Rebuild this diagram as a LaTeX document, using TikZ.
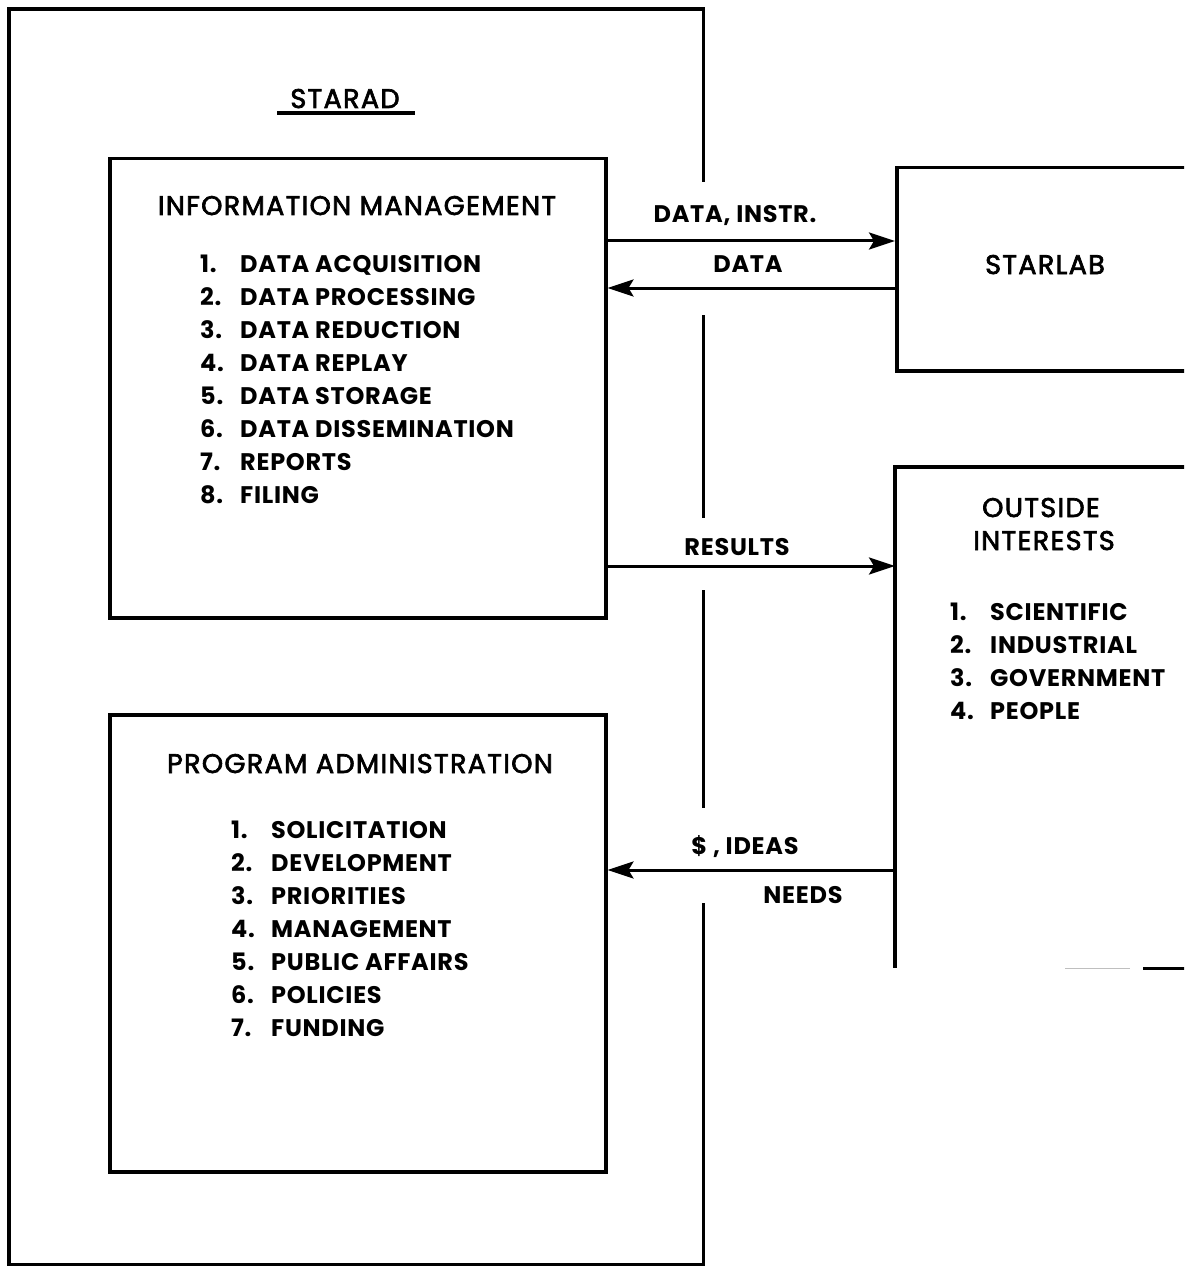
\documentclass[tikz,border=0pt]{standalone}
\usepackage{fontspec}
\setmainfont{Poppins}
\newfontfamily\headfont[LetterSpace=5, FakeBold=2.5]{Poppins}
\newfontfamily\itemfont[LetterSpace=3]{Poppins}
\usetikzlibrary{arrows.meta}
\begin{document}
\begin{tikzpicture}[x=1pt,y=-1pt,
  frame/.style={line width=3.5pt},
  box/.style={draw, line width=3.5pt, anchor=north west, inner sep=0pt},
  area/.style={inner sep=0pt, anchor=north west},
  arr/.style={line width=3pt, -{Stealth[length=26pt,width=17pt,inset=5pt]}},
  head/.style={font=\headfont\fontsize{27}{32}\selectfont, inner sep=0pt, anchor=base},
  item/.style={font=\itemfont\bfseries\fontsize{24}{28}\selectfont, inner sep=0pt, anchor=base west},
  lbl/.style={font=\itemfont\bfseries\fontsize{24}{28}\selectfont, inner sep=0pt, anchor=base},
]
\useasboundingbox (0,0) rectangle (1184,1273);
\clip (0,0) rectangle (1184,1273);

% STARAD frame: right side is broken where the flows cross it
\node[area, minimum width=694, minimum height=1255] (starad) at (9,9) {};
\draw[frame] (starad.north east |- 0,182) -- (starad.north east) -- (starad.north west)
  -- (starad.south west) -- (starad.south east) -- (starad.south east |- 0,903);
\draw[frame] (starad.east |- 0,315) -- (starad.east |- 0,518);
\draw[frame] (starad.east |- 0,590) -- (starad.east |- 0,808);

\node[head] (staradlbl) at (345,108) {STARAD};
\draw[frame] (277,113) -- (415,113);

% Information management
\node[box, minimum width=496, minimum height=459] (im) at (108,157) {};
\node[head] (imtitle) at (357,215) {INFORMATION MANAGEMENT};
\foreach \t [count=\i] in {DATA ACQUISITION, DATA PROCESSING, DATA REDUCTION,
    DATA REPLAY, DATA STORAGE, DATA DISSEMINATION, REPORTS, FILING} {
  \node[item] (imn\i) at (200,{272.5+33*(\i-1)}) {\i.};
  \node[item] (imt\i) at (240,{272.5+33*(\i-1)}) {\t};
}

% Program administration
\node[box, minimum width=496, minimum height=457] (pa) at (108,713) {};
\node[head] (patitle) at (360,773) {PROGRAM ADMINISTRATION};
\foreach \t [count=\i] in {SOLICITATION, DEVELOPMENT, PRIORITIES, MANAGEMENT,
    PUBLIC AFFAIRS, POLICIES, FUNDING} {
  \node[item] (pan\i) at (231,{838+33*(\i-1)}) {\i.};
  \node[item] (pat\i) at (271,{838+33*(\i-1)}) {\t};
}

% Starlab
\node[box, minimum width=320, minimum height=203] (starlab) at (895,166) {};
\node[head] (starlabtitle) at (1045,274) {STARLAB};

% Outside interests (bottom edge survives only in part)
\node[area, minimum width=320, minimum height=501] (outside) at (895,467) {};
\draw[frame] (outside.north east) -- (outside.north west) -- (outside.south west);
\draw[frame] (outside.south west -| 1143,0) -- (outside.south east);
\draw[gray!50, line width=1pt] (outside.south west -| 1065,0) -- (outside.south west -| 1130,0);
\node[head] (outtitle1) at (1041,517) {OUTSIDE};
\node[head] (outtitle2) at (1044,550) {INTERESTS};
\foreach \t [count=\i] in {SCIENTIFIC, INDUSTRIAL, GOVERNMENT, PEOPLE} {
  \node[item] (oin\i) at (950,{620.5+33*(\i-1)}) {\i.};
  \node[item] (oit\i) at (990,{620.5+33*(\i-1)}) {\t};
}

% Flows
\draw[arr] (im.east |- 0,241) -- (starlab.west |- 0,241);
\draw[arr] (starlab.west |- 0,288) -- (im.east |- 0,288);
\draw[arr] (im.east |- 0,566) -- (outside.west |- 0,566);
\draw[arr] (outside.west |- 0,870) -- (pa.east |- 0,870);

\node[lbl] (l1) at (735,222.5) {DATA, INSTR.};
\node[lbl] (l2) at (748,272.5) {DATA};
\node[lbl] (l3) at (737,555.5) {RESULTS};
\node[lbl] (l4) at (745,854.5) {\$ , IDEAS};
\node[lbl] (l5) at (803,903.5) {NEEDS};
\end{tikzpicture}
\end{document}
